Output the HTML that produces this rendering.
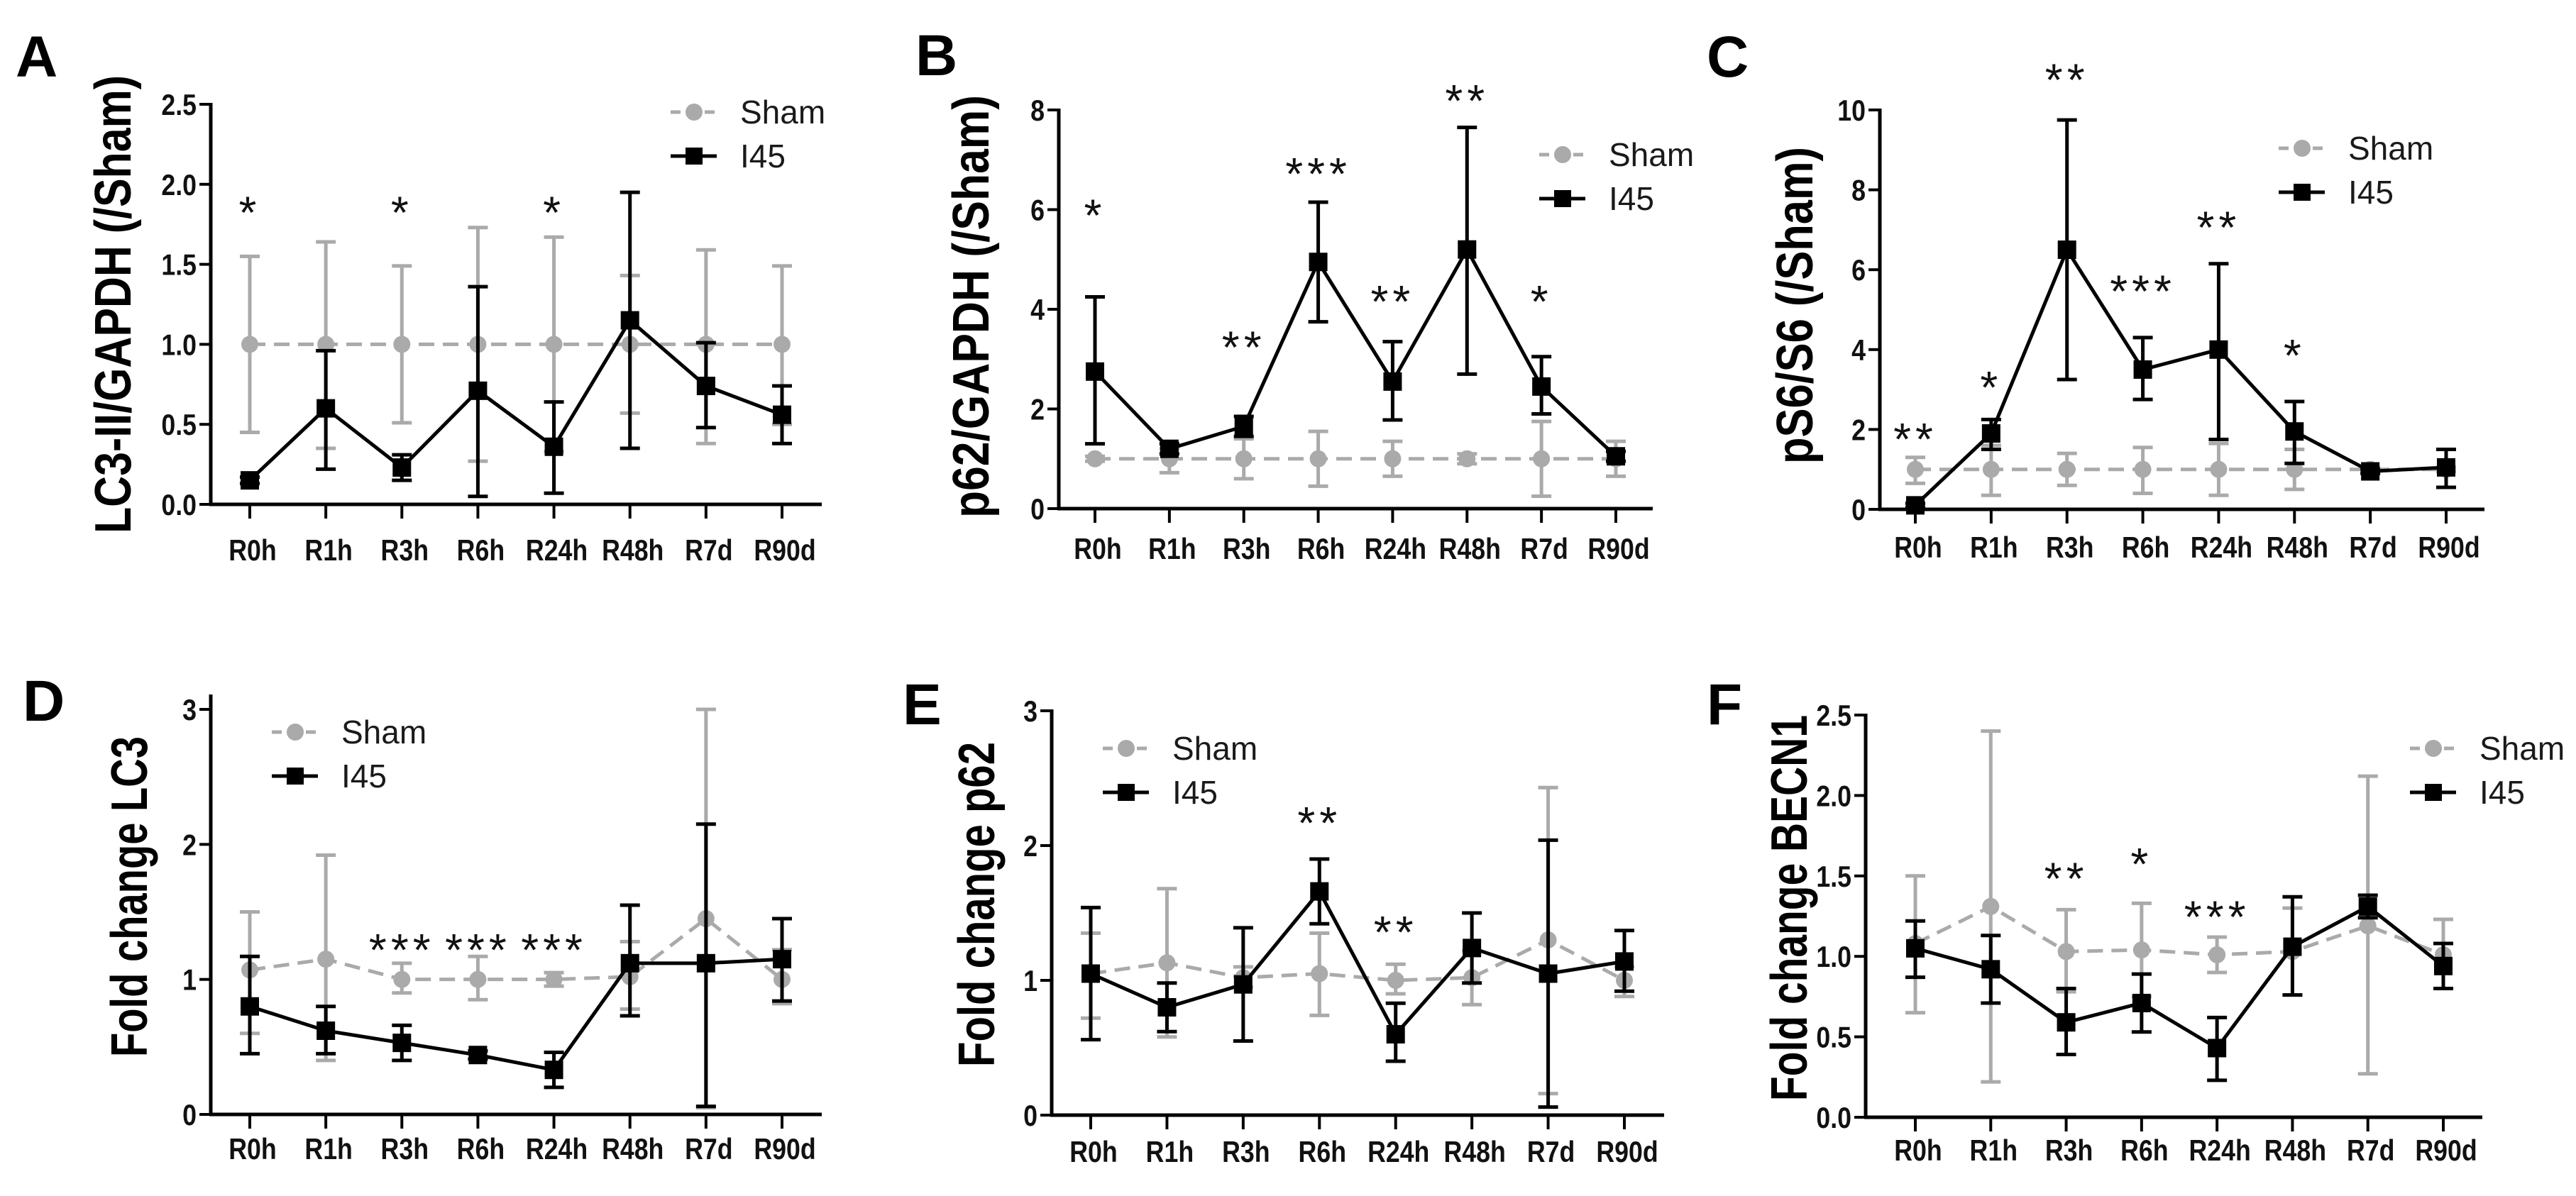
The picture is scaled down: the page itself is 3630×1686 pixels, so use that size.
<!DOCTYPE html>
<html><head><meta charset="utf-8"><style>
html,body{margin:0;padding:0;background:#fff;}
svg{display:block;}
text{font-family:"Liberation Sans",sans-serif;}
</style></head><body>
<svg id="fig" width="3630" height="1686" viewBox="0 0 3630 1686" xmlns="http://www.w3.org/2000/svg"></svg>
<script>
const categories = ["R0h","R1h","R3h","R6h","R24h","R48h","R7d","R90d"];

// Panel A
const aTicks = ["0.0","0.5","1.0","1.5","2.0","2.5"];
const aTickVals = [0,0.5,1,1.5,2,2.5];
const aShamMean = [1,1,1,1,1,1,1,1];
const aShamLo = [0.45,0.35,0.51,0.27,0.33,0.57,0.38,0.5];
const aShamHi = [1.55,1.64,1.49,1.73,1.67,1.43,1.59,1.49];
const aI45Mean = [0.15,0.6,0.23,0.71,0.36,1.15,0.74,0.56];
const aI45Lo = [0.13,0.22,0.15,0.05,0.07,0.35,0.48,0.38];
const aI45Hi = [0.17,0.96,0.31,1.36,0.64,1.95,1.01,0.74];
const aStars = ["*","","*","","*","","",""];
const aStarVals = [1.86,0,1.86,0,1.86,0,0,0];

// Panel B
const bTicks = ["0","2","4","6","8"];
const bTickVals = [0,2,4,6,8];
const bShamMean = [1,1,1,1,1,1,1,1];
const bShamLo = [0.95,0.72,0.6,0.45,0.65,0.9,0.25,0.65];
const bShamHi = [1.05,1.2,1.4,1.55,1.35,1.1,1.75,1.35];
const bI45Mean = [2.75,1.2,1.65,4.95,2.55,5.2,2.45,1.05];
const bI45Lo = [1.3,1.1,1.45,3.75,1.78,2.7,1.9,0.95];
const bI45Hi = [4.25,1.3,1.85,6.15,3.35,7.65,3.05,1.15];
const bStars = ["*","","**","***","**","**","*",""];
const bStarVals = [6.0,0,3.35,6.83,4.27,8.3,4.27,0];

// Panel C
const cTicks = ["0","2","4","6","8","10"];
const cTickVals = [0,2,4,6,8,10];
const cShamMean = [1,1,1,1,1,1,1,1];
const cShamLo = [0.65,0.35,0.6,0.4,0.35,0.5,0.95,0.95];
const cShamHi = [1.3,1.6,1.4,1.55,1.65,1.5,1.05,1.05];
const cI45Mean = [0.1,1.9,6.5,3.5,4.0,1.95,0.95,1.05];
const cI45Lo = [0.05,1.5,3.25,2.75,1.75,1.15,0.9,0.55];
const cI45Hi = [0.15,2.25,9.75,4.3,6.15,2.7,1.0,1.5];
const cStars = ["**","*","**","***","**","*","",""];
const cStarVals = [1.9,3.2,10.9,5.6,7.2,4.0,0,0];

// Panel D
const dTicks = ["0","1","2","3"];
const dTickVals = [0,1,2,3];
const dShamMean = [1.07,1.15,1.0,1.0,1.0,1.02,1.45,1.0];
const dShamLo = [0.6,0.4,0.9,0.85,0.95,0.78,0.05,0.82];
const dShamHi = [1.5,1.92,1.12,1.17,1.05,1.28,3.0,1.22];
const dI45Mean = [0.8,0.62,0.53,0.44,0.33,1.12,1.12,1.15];
const dI45Lo = [0.45,0.45,0.4,0.41,0.2,0.73,0.06,0.84];
const dI45Hi = [1.17,0.8,0.66,0.47,0.46,1.55,2.15,1.45];
const dStars = ["","","***","***","***","","",""];
const dStarVals = [0,0,1.26,1.26,1.26,0,0,0];

// Panel E
const eTicks = ["0","1","2","3"];
const eTickVals = [0,1,2,3];
const eShamMean = [1.05,1.13,1.02,1.05,1.0,1.02,1.3,1.0];
const eShamLo = [0.72,0.58,0.95,0.74,0.9,0.82,0.16,0.88];
const eShamHi = [1.35,1.68,1.1,1.35,1.12,1.22,2.43,1.1];
const eI45Mean = [1.05,0.8,0.97,1.66,0.6,1.24,1.05,1.14];
const eI45Lo = [0.56,0.62,0.55,1.42,0.4,0.98,0.06,0.92];
const eI45Hi = [1.54,0.98,1.39,1.9,0.83,1.5,2.04,1.37];
const eStars = ["","","","**","**","","",""];
const eStarVals = [0,0,0,2.21,1.4,0,0,0];

// Panel F
const fTicks = ["0.0","0.5","1.0","1.5","2.0","2.5"];
const fTickVals = [0,0.5,1,1.5,2,2.5];
const fShamMean = [1.08,1.31,1.03,1.04,1.01,1.03,1.19,1.01];
const fShamLo = [0.65,0.22,0.78,0.75,0.9,0.76,0.27,0.8];
const fShamHi = [1.5,2.4,1.29,1.33,1.12,1.3,2.12,1.23];
const fI45Mean = [1.05,0.92,0.59,0.71,0.43,1.06,1.31,0.94];
const fI45Lo = [0.87,0.71,0.39,0.53,0.23,0.76,1.24,0.8];
const fI45Hi = [1.22,1.13,0.8,0.89,0.62,1.37,1.38,1.08];
const fStars = ["","","**","*","***","","",""];
const fStarVals = [0,0,1.52,1.61,1.28,0,0,0];

const NS = "http://www.w3.org/2000/svg";
const svg = document.getElementById("fig");
function mk(tag, attrs, parent, txt){
  const e = document.createElementNS(NS, tag);
  for (const k in attrs) e.setAttribute(k, attrs[k]);
  if (txt !== undefined) e.textContent = txt;
  (parent || svg).appendChild(e);
  return e;
}
function narrow(t){
  const w = t.getComputedTextLength();
  if (w > 0) {
    t.setAttribute("textLength", (w * 0.85).toFixed(1));
    t.setAttribute("lengthAdjust", "spacingAndGlyphs");
  }
}

const panels = [
 {id:"a", letter:"A", lx:22, ly:108, ax:297, y0:711, yTop:147, vmax:2.5, x0:352, x7:1102, xEnd:1158, tickY:790,
  title:"LC3-II/GAPDH (/Sham)", tx:158, tyA:106, tyB:752, legX:1043, legY:158,
  ticks:aTicks, tv:aTickVals, sm:aShamMean, sl:aShamLo, sh:aShamHi, im:aI45Mean, il:aI45Lo, ih:aI45Hi, st:aStars, sv:aStarVals},
 {id:"b", letter:"B", lx:1290, ly:106, ax:1492, y0:717, yTop:155, vmax:8, x0:1543, x7:2277, xEnd:2329, tickY:788,
  title:"p62/GAPDH (/Sham)", tx:1367, tyA:134, tyB:730, legX:2267, legY:218,
  ticks:bTicks, tv:bTickVals, sm:bShamMean, sl:bShamLo, sh:bShamHi, im:bI45Mean, il:bI45Lo, ih:bI45Hi, st:bStars, sv:bStarVals},
 {id:"c", letter:"C", lx:2405, ly:108, ax:2649, y0:718, yTop:155, vmax:10, x0:2699, x7:3447, xEnd:3501, tickY:786,
  title:"pS6/S6 (/Sham)", tx:2528, tyA:207, tyB:654, legX:3309, legY:209,
  ticks:cTicks, tv:cTickVals, sm:cShamMean, sl:cShamLo, sh:cShamHi, im:cI45Mean, il:cI45Lo, ih:cI45Hi, st:cStars, sv:cStarVals},
 {id:"d", letter:"D", lx:32, ly:1016, ax:297, y0:1571, yTop:1000, vmax:3, vtop:3.1, x0:352, x7:1102, xEnd:1158, tickY:1634,
  title:"Fold change LC3", tx:181, tyA:1038, tyB:1490, legX:481, legY:1032,
  ticks:dTicks, tv:dTickVals, sm:dShamMean, sl:dShamLo, sh:dShamHi, im:dI45Mean, il:dI45Lo, ih:dI45Hi, st:dStars, sv:dStarVals},
 {id:"e", letter:"E", lx:1272, ly:1021, ax:1482, y0:1572, yTop:1002, vmax:3, x0:1537, x7:2289, xEnd:2345, tickY:1638,
  title:"Fold change p62", tx:1375, tyA:1046, tyB:1504, legX:1652, legY:1055,
  ticks:eTicks, tv:eTickVals, sm:eShamMean, sl:eShamLo, sh:eShamHi, im:eI45Mean, il:eI45Lo, ih:eI45Hi, st:eStars, sv:eStarVals},
 {id:"f", letter:"F", lx:2405, ly:1021, ax:2629, y0:1575, yTop:1008, vmax:2.5, x0:2699, x7:3443, xEnd:3498, tickY:1636,
  title:"Fold change BECN1", tx:2520, tyA:1008, tyB:1552, legX:3494, legY:1055,
  ticks:fTicks, tv:fTickVals, sm:fShamMean, sl:fShamLo, sh:fShamHi, im:fI45Mean, il:fI45Lo, ih:fI45Hi, st:fStars, sv:fStarVals}
];

const GRAY = "#aaaaaa";
panels.forEach(p => {
  const g = mk("g", {});
  
  
  const yPix = v => p.y0 - (v / p.vmax) * (p.y0 - p.yTop);
  const xPix = i => p.x0 + i * (p.x7 - p.x0) / (categories.length - 1);

  const L = mk("text", {x:p.lx, y:p.ly, "font-size":82, "font-weight":"bold", fill:"#000"}, g, p.letter);
  
  

  const axTop = p.vtop ? yPix(p.vtop) : p.yTop;
  const ya = mk("line", {x1:p.ax, y1:axTop-2, x2:p.ax, y2:p.y0+2, stroke:"#000", "stroke-width":5}, g);
  
  
  const xa = mk("line", {x1:p.ax-2, y1:p.y0, x2:p.xEnd, y2:p.y0, stroke:"#000", "stroke-width":5}, g);
  
  

  p.tv.forEach((v, i) => {
    const y = yPix(v);
    const t = mk("line", {x1:p.ax-16, y1:y, x2:p.ax, y2:y, stroke:"#000", "stroke-width":4}, g);
    
    
    const tl = mk("text", {x:p.ax-20, y:y+15, "font-size":42, "font-weight":"bold", "text-anchor":"end", fill:"#111"}, g, p.ticks[i]);
    
    
    narrow(tl);
  });
  categories.forEach((c, i) => {
    const x = xPix(i);
    const t = mk("line", {x1:x, y1:p.y0, x2:x, y2:p.y0+20, stroke:"#000", "stroke-width":4}, g);
    
    
    const tl = mk("text", {x:x+4, y:p.tickY, "font-size":42, "font-weight":"bold", "text-anchor":"middle", fill:"#111"}, g, c);
    
    
    narrow(tl);
  });

  const cy = (p.tyA + p.tyB) / 2;
  const yt = mk("text", {x:p.tx + 26, y:cy, "font-size":72, "font-weight":"bold", "text-anchor":"middle",
    textLength:(p.tyB - p.tyA), lengthAdjust:"spacingAndGlyphs", transform:"rotate(-90 " + (p.tx + 26) + " " + cy + ")", fill:"#000"}, g, p.title);
  
  

  const sg = mk("g", {}, g);
  
  
  p.sm.forEach((v, i) => {
    const x = xPix(i);
    const e = mk("path", {d:`M${x},${yPix(p.sl[i])}V${yPix(p.sh[i])}M${x-14},${yPix(p.sl[i])}H${x+14}M${x-14},${yPix(p.sh[i])}H${x+14}`,
      stroke:GRAY, "stroke-width":5, fill:"none"}, sg);
    
    
  });
  const sl = mk("polyline", {points:p.sm.map((v,i)=>xPix(i)+","+yPix(v)).join(" "), fill:"none", stroke:GRAY, "stroke-width":5, "stroke-dasharray":"22 12"}, sg);
  
  
  p.sm.forEach((v, i) => {
    const c = mk("circle", {cx:xPix(i), cy:yPix(v), r:12, fill:GRAY}, sg);
    
    
  });

  const ig = mk("g", {}, g);
  
  
  p.im.forEach((v, i) => {
    const x = xPix(i);
    const e = mk("path", {d:`M${x},${yPix(p.il[i])}V${yPix(p.ih[i])}M${x-14},${yPix(p.il[i])}H${x+14}M${x-14},${yPix(p.ih[i])}H${x+14}`,
      stroke:"#000", "stroke-width":5, fill:"none"}, ig);
    
    
  });
  const il = mk("polyline", {points:p.im.map((v,i)=>xPix(i)+","+yPix(v)).join(" "), fill:"none", stroke:"#000", "stroke-width":5}, ig);
  
  
  p.im.forEach((v, i) => {
    const r = mk("rect", {x:xPix(i)-13, y:yPix(v)-13, width:26, height:26, fill:"#000"}, ig);
    
    
  });

  p.st.forEach((s, i) => {
    if (!s) return;
    const t = mk("text", {x:xPix(i), y:yPix(p.sv[i]) + 30, "font-size":64, "text-anchor":"middle", fill:"#111", "letter-spacing":"6"}, g, s);
    
    
  });

  const lg = mk("g", {}, g);
  
  
  const ls = mk("line", {x1:p.legX-98, y1:p.legY, x2:p.legX-33, y2:p.legY, stroke:GRAY, "stroke-width":5, "stroke-dasharray":"14 10"}, lg);
  
  
  const lc = mk("circle", {cx:p.legX-65, cy:p.legY, r:12, fill:GRAY}, lg);
  
  
  const lt1 = mk("text", {x:p.legX, y:p.legY+16, "font-size":46, fill:"#1a1a1a"}, lg, "Sham");
  
  
  const y2 = p.legY + 62;
  const li = mk("line", {x1:p.legX-98, y1:y2, x2:p.legX-33, y2:y2, stroke:"#000", "stroke-width":5}, lg);
  
  
  const lr = mk("rect", {x:p.legX-77, y:y2-12, width:24, height:24, fill:"#000"}, lg);
  
  
  const lt2 = mk("text", {x:p.legX, y:y2+16, "font-size":46, fill:"#1a1a1a"}, lg, "I45");
  
  
});
</script>
</body></html>
